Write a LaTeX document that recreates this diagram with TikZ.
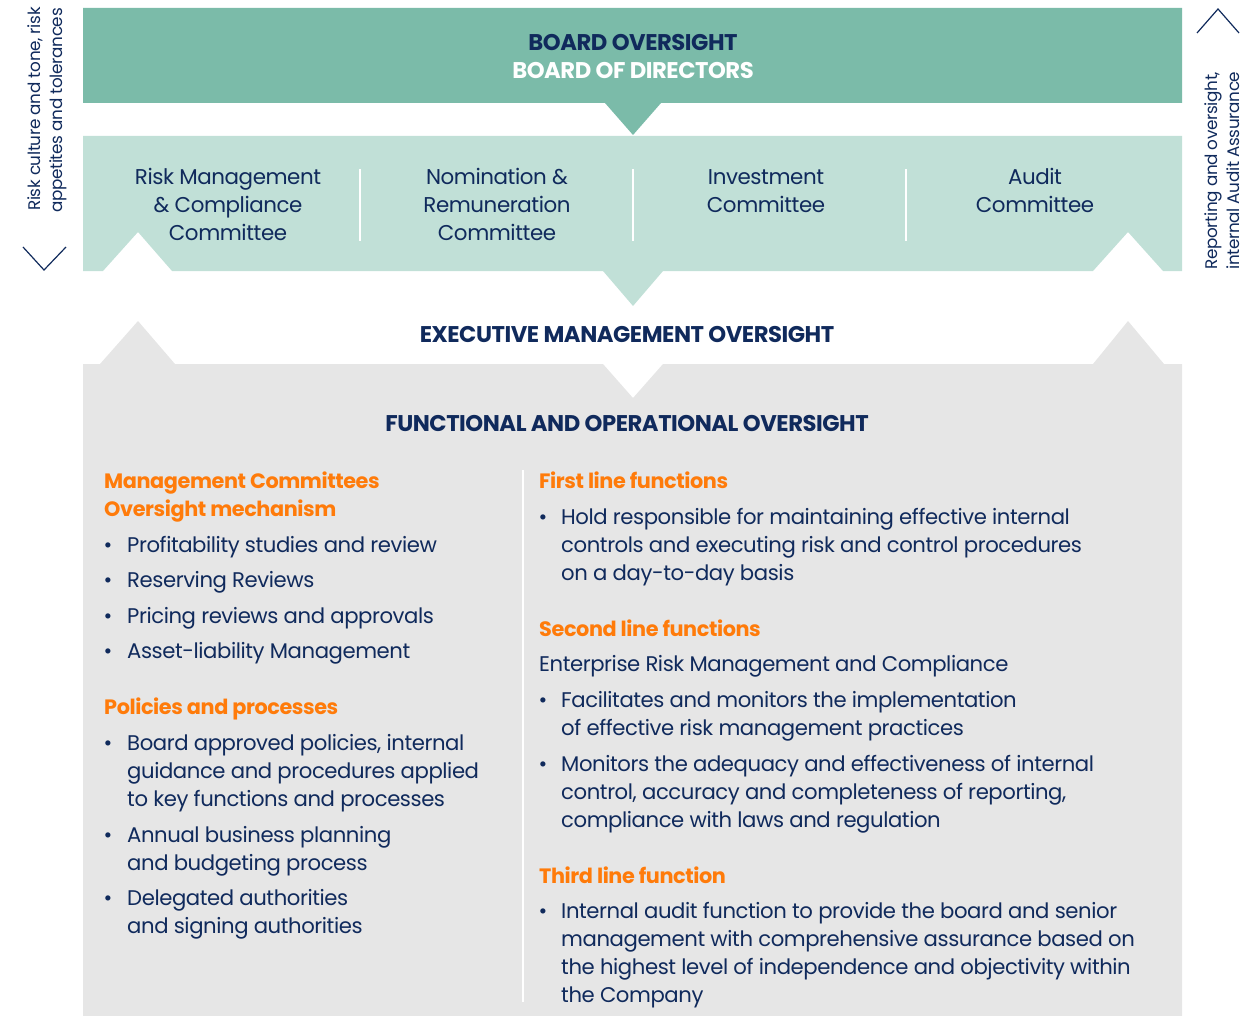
\documentclass[tikz,border=0pt]{standalone}
\usepackage{fontspec}
\setmainfont{Poppins}[LetterSpace=-2.0]
\definecolor{dgreen}{RGB}{123,187,169}
\definecolor{lgreen}{RGB}{193,224,215}
\definecolor{lgray}{RGB}{230,230,230}
\definecolor{navy}{RGB}{16,42,92}
\definecolor{orng}{RGB}{255,123,10}
\tikzset{
  body/.style={font=\fontsize{21.2}{25}\selectfont, text=navy, inner sep=0pt, anchor=base west},
  bodyc/.style={font=\fontsize{21.4}{25}\selectfont, text=navy, inner sep=0pt, anchor=base},
  bul/.style={body, anchor=base},
  headr/.style={font=\fontsize{20.8}{25}\selectfont\bfseries, text=orng, inner sep=0pt, anchor=base west},
  titl/.style={font=\fontsize{22.7}{26}\selectfont\bfseries, text=navy, inner sep=0pt, anchor=base},
  side/.style={font=\fontsize{16.8}{20}\selectfont, text=navy, inner sep=0pt, anchor=base west, rotate=90},
  divider/.style={draw=white, line width=2.5pt},
  chev/.style={draw=navy, line width=1.2pt}
}
\begin{document}
\begin{tikzpicture}[x=1pt,y=-1pt]
\useasboundingbox (0,0) rectangle (1244,1016);
% bands
\fill[dgreen] (83,8) -- (1182,8) -- (1182,103) -- (661,103) -- (633,135) -- (605,103) -- (83,103) -- cycle;
\fill[lgreen] (83,136) -- (1182,136) -- (1182,271) -- (1163,271) -- (1128,232) -- (1093,271) -- (663,271) -- (633,306) -- (603,271) -- (172,271) -- (138,232) -- (103,271) -- (83,271) -- cycle;
\fill[lgray] (83,364) -- (100,364) -- (138,321) -- (175,364) -- (603,364) -- (633,398) -- (663,364) -- (1093,364) -- (1128,321) -- (1164,364) -- (1182,364) -- (1182,1016) -- (83,1016) -- cycle;
% dividers
\draw[divider] (360,169) -- (360,241);
\draw[divider] (633,169) -- (633,241);
\draw[divider] (906,169) -- (906,241);
\draw[divider] (523,470) -- (523,1002);
% chevrons
\draw[chev] (23,247) -- (44,270) -- (66,247);
\draw[chev] (1197,33) -- (1218,9) -- (1239,33);
% side texts
\node[side] (sl1) at (40,211) {Risk culture and tone, risk};
\node[side] (sl2) at (62,213) {appetites and tolerances};
\node[side] (sr1) at (1217,270) {Reporting and oversight,};
\node[side] (sr2) at (1239,270) {internal Audit Assurance};
% titles
\node[titl] (bo) at (633,51) {BOARD OVERSIGHT};
\node[titl, text=white] (bd) at (633,79) {BOARD OF DIRECTORS};
\node[titl] (emo) at (627,342) {EXECUTIVE MANAGEMENT OVERSIGHT};
\node[titl] (foo) at (627,431) {FUNCTIONAL AND OPERATIONAL OVERSIGHT};
% committees
\node[bodyc] (c1a) at (228,185) {Risk Management};
\node[bodyc] (c1b) at (228,213) {\& Compliance};
\node[bodyc] (c1c) at (228,241) {Committee};
\node[bodyc] (c2a) at (497,185) {Nomination \&};
\node[bodyc] (c2b) at (497,213) {Remuneration};
\node[bodyc] (c2c) at (497,241) {Committee};
\node[bodyc] (c3a) at (766,185) {Investment};
\node[bodyc] (c3b) at (766,213) {Committee};
\node[bodyc] (c4a) at (1035,185) {Audit};
\node[bodyc] (c4b) at (1035,213) {Committee};
% left column
\node[headr] (h1a) at (104,488) {Management Committees};
\node[headr] (h1b) at (104,516) {Oversight mechanism};
\node[bul] (b1) at (108,552) {•};
\node[body] (t1) at (127,552) {Profitability studies and review};
\node[bul] (b2) at (108,587) {•};
\node[body] (t2) at (127,587) {Reserving Reviews};
\node[bul] (b3) at (108,623) {•};
\node[body] (t3) at (127,623) {Pricing reviews and approvals};
\node[bul] (b4) at (108,658) {•};
\node[body] (t4) at (127,658) {Asset-liability Management};
\node[headr] (h2) at (104,714) {Policies and processes};
\node[bul] (b5) at (108,750) {•};
\node[body] (t5a) at (127,750) {Board approved policies, internal};
\node[body] (t5b) at (127,778) {guidance and procedures applied};
\node[body] (t5c) at (127,806) {to key functions and processes};
\node[bul] (b6) at (108,842) {•};
\node[body] (t6a) at (127,842) {Annual business planning};
\node[body] (t6b) at (127,870) {and budgeting process};
\node[bul] (b7) at (108,905) {•};
\node[body] (t7a) at (127,905) {Delegated authorities};
\node[body] (t7b) at (127,933) {and signing authorities};
% right column
\node[headr] (h3) at (539,488) {First line functions};
\node[bul] (b8) at (543,524) {•};
\node[body] (t8a) at (561,524) {Hold responsible for maintaining effective internal};
\node[body] (t8b) at (561,552) {controls and executing risk and control procedures};
\node[body] (t8c) at (561,580) {on a day-to-day basis};
\node[headr] (h4) at (539,636) {Second line functions};
\node[body] (erm) at (539,671) {Enterprise Risk Management and Compliance};
\node[bul] (b9) at (543,707) {•};
\node[body] (t9a) at (561,707) {Facilitates and monitors the implementation};
\node[body] (t9b) at (561,735) {of effective risk management practices};
\node[bul] (b10) at (543,771) {•};
\node[body] (t10a) at (561,771) {Monitors the adequacy and effectiveness of internal};
\node[body] (t10b) at (561,799) {control, accuracy and completeness of reporting,};
\node[body] (t10c) at (561,827) {compliance with laws and regulation};
\node[headr] (h5) at (539,883) {Third line function};
\node[bul] (b11) at (543,918) {•};
\node[body] (t11a) at (561,918) {Internal audit function to provide the board and senior};
\node[body] (t11b) at (561,946) {management with comprehensive assurance based on};
\node[body] (t11c) at (561,974) {the highest level of independence and objectivity within};
\node[body] (t11d) at (561,1002) {the Company};
\end{tikzpicture}
\end{document}
